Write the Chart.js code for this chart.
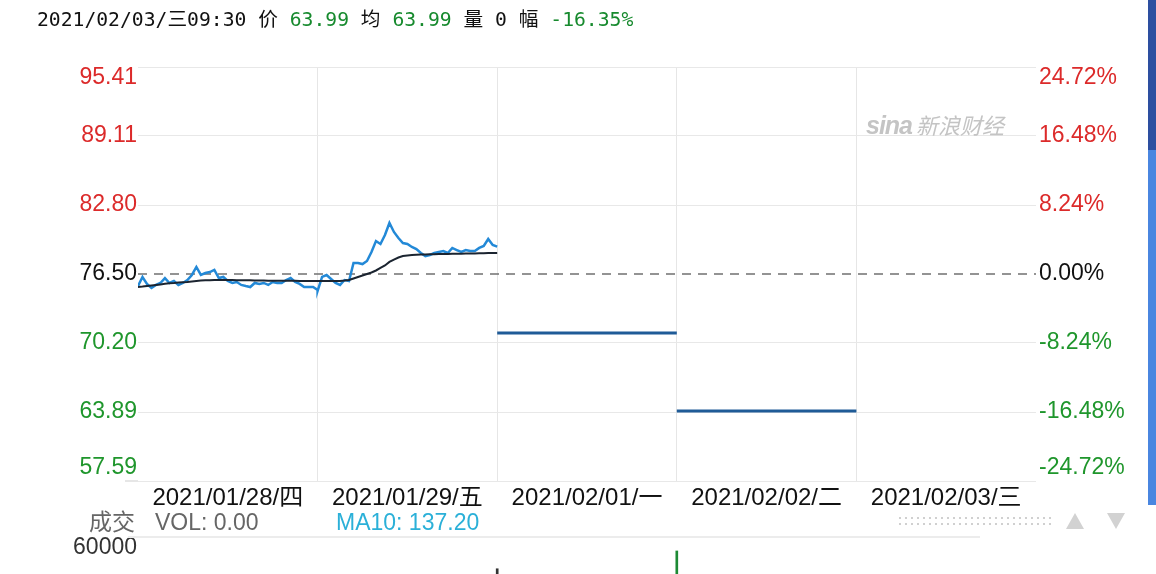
<!DOCTYPE html>
<html>
<head>
<meta charset="utf-8">
<script src="https://cdn.jsdelivr.net/npm/chart.js@4.4.1/dist/chart.umd.min.js"></script>
<style>
html,body{margin:0;padding:0;background:#fff;width:1156px;height:574px;overflow:hidden;position:relative;}
#main{position:absolute;left:0;top:0;}
#vol{position:absolute;left:0;top:537px;}
.t{position:absolute;white-space:nowrap;}
#hdr{left:37px;top:8px;font:19.7px "DejaVu Sans Mono","Noto Sans CJK SC",monospace;color:#111;line-height:24px;}
.g{color:#178a2e;}
.lbl{font:23px "Liberation Sans","Noto Sans CJK SC",sans-serif;line-height:28px;}
#dots{position:absolute;left:897px;top:515px;width:156px;height:12px;
 background-image:radial-gradient(circle,#d0d0d0 0.9px,transparent 1.2px);background-size:6px 6px;}
.tri{position:absolute;width:0;height:0;border-left:9px solid transparent;border-right:9px solid transparent;}
</style>
</head>
<body>
<canvas id="main" width="1156" height="515"></canvas>
<canvas id="vol" width="1156" height="200"></canvas>

<div id="hdr" class="t">2021/02/03/三09:30 价 <span class="g">63.99</span> 均 <span class="g">63.99</span> 量 0 幅 <span class="g">-16.35%</span></div>

<div class="t" style="left:866px;top:108px;color:#c4c4c4;">
 <span style="font:italic bold 25px 'Liberation Sans',sans-serif;letter-spacing:-1px;">sina</span><span style="font:italic 22px 'Noto Sans CJK SC',sans-serif;margin-left:4px;">新浪财经</span>
</div>

<div class="t lbl" style="left:89px;top:508px;color:#666;">成交</div>
<div class="t lbl" style="left:155px;top:508px;color:#666;">VOL: 0.00</div>
<div class="t lbl" style="left:336px;top:508px;color:#2bb0d8;">MA10: 137.20</div>
<div id="dots"></div>
<div class="tri" style="left:1066px;top:513px;border-bottom:16px solid #d2d2d2;"></div>
<div class="tri" style="left:1107px;top:513px;border-top:16px solid #d2d2d2;"></div>
<div class="t" style="left:128px;top:536px;width:852px;height:2px;background:#ececec;"></div>
<div class="t" style="left:125px;top:480px;width:13px;height:2px;background:#e6e6e6;"></div>
<div class="t" style="left:1148px;top:0;width:8px;height:150px;background:#2d4fa0;"></div>
<div class="t" style="left:1148px;top:150px;width:8px;height:355px;background:#4a86e0;"></div>

<script>
// ---- data ----
const dates = ['2021/01/28/四','2021/01/29/五','2021/02/01/一','2021/02/02/二','2021/02/03/三'];
const prevClose = 76.50;
const leftTicks = [57.59, 63.89, 70.20, 76.50, 82.80, 89.11, 95.41];
const rightTicks = [-24.72, -16.48, -8.24, 0.00, 8.24, 16.48, 24.72];

const day1Price = [75.40,76.23,75.59,75.22,75.50,75.68,76.13,75.68,75.86,75.50,75.68,75.95,76.41,77.14,76.41,76.59,76.68,76.87,76.13,76.23,
                   75.86,75.68,75.77,75.50,75.40,75.31,75.68,75.59,75.68,75.50,75.77,75.68,75.68,75.95,76.13,75.77,75.59,75.31,75.31,75.31,75.04];
const day2Price = [74.95,76.23,76.41,76.04,75.68,75.50,75.95,75.86,77.50,77.50,77.41,77.69,78.51,79.51,79.24,80.06,81.16,80.34,79.79,79.33,
                   79.24,78.97,78.78,78.42,78.14,78.24,78.42,78.51,78.60,78.42,78.88,78.69,78.51,78.69,78.60,78.60,78.88,79.06,79.70,79.15,79.00];
const day3Price = [71.10, 71.10];
const day4Price = [63.99, 63.99];

const day1Avg = [75.31,75.35,75.40,75.45,75.50,75.55,75.60,75.65,75.68,75.72,75.75,75.78,75.82,75.86,75.90,75.92,75.93,75.95,75.95,75.95,
                 75.95,75.95,75.94,75.93,75.92,75.92,75.91,75.90,75.90,75.89,75.89,75.88,75.88,75.88,75.88,75.88,75.87,75.87,75.87,75.86,75.85];
const day2Avg = [75.85,75.85,75.85,75.85,75.86,75.86,75.90,75.95,76.09,76.23,76.36,76.50,76.64,76.82,77.05,77.28,77.60,77.82,78.01,78.14,
                 78.19,78.24,78.26,78.28,78.29,78.30,78.31,78.32,78.33,78.33,78.34,78.35,78.36,78.37,78.38,78.38,78.39,78.40,78.41,78.41,78.42];

const volDays = [2, 3];
const volValues = [53000, 59000];
const volColors = ['#333333', '#1d8a34'];

// ---- helpers ----
const FONT = '"Liberation Sans","Noto Sans CJK SC",sans-serif';
const RED = '#dc2a2a', GREEN = '#1f962c', BLACK = '#111111';
function toPoints(arr, day){ const n = arr.length - 1; return arr.map((v,i)=>({x: day + i/n, y: v})); }
const pricePts = [].concat(toPoints(day1Price,0), toPoints(day2Price,1), [{x:2,y:null}],
                           toPoints(day3Price,2), [{x:3,y:null}], toPoints(day4Price,3));
const avgPts = [].concat(toPoints(day1Avg,0), toPoints(day2Avg,1));

function edgeLabel(s, i, n){
  if (i === n-1) return ['', s];
  if (i === 0) return [s, ''];
  return s;
}
function edgeFont(ctx){
  const n = 7;
  let lh = 1.2;
  if (ctx.index === n-1) lh = '22px';
  else if (ctx.index === 0) lh = '27px';
  return {family: FONT, size: 23, lineHeight: lh};
}

new Chart(document.getElementById('main'), {
  type: 'line',
  data: { datasets: [
    { label:'均', data: avgPts, borderColor:'#1b2430', borderWidth:2, pointRadius:0, tension:0 },
    { label:'价', data: pricePts, borderColor:'#2389d7', borderWidth:2.5, pointRadius:0, tension:0, spanGaps:false,
      segment:{ borderColor: c => c.p0.parsed.x >= 2 ? '#1f5b97' : '#2389d7',
                borderWidth: c => c.p0.parsed.x >= 2 ? 3 : 2.5 } },
    { label:'昨收', data:[{x:0,y:prevClose},{x:5,y:prevClose}], borderColor:'#707070', borderWidth:1.5,
      borderDash:[9,7], pointRadius:0 }
  ]},
  options: {
    animation:false, responsive:false, events:[],
    layout:{ padding:{ top:67, left:0, right:0, bottom:0 } },
    plugins:{ legend:{display:false}, tooltip:{enabled:false} },
    scales:{
      x:{ type:'linear', min:0, max:5,
          afterBuildTicks: s => { s.ticks = [0,0.5,1,1.5,2,2.5,3,3.5,4,4.5,5].map(v=>({value:v})); },
          afterFit: s => { s.height = 34; },
          grid:{ drawTicks:false, lineWidth:1,
                 color: c => (c.tick && Number.isInteger(c.tick.value) && c.tick.value>0 && c.tick.value<5) ? '#e6e6e6' : 'rgba(0,0,0,0)' },
          border:{display:false},
          ticks:{ autoSkip:false, maxRotation:0, minRotation:0, padding:3, color:BLACK,
                  font:{family:FONT, size:24},
                  callback: v => { const k = Math.round(v*2); return (k % 2 === 1) ? dates[(k-1)/2] : ''; } } },
      y:{ type:'linear', position:'left', min:57.59, max:95.41,
          afterBuildTicks: s => { s.ticks = leftTicks.map(v=>({value:v})); },
          afterFit: s => { s.width = 138; },
          grid:{ drawTicks:false, color: c => (c.tick && c.tick.value === prevClose) ? 'rgba(0,0,0,0)' : '#e8e8e8' },
          border:{display:false},
          ticks:{ padding:1, font: edgeFont,
                  color: c => c.tick.value > prevClose ? RED : (c.tick.value < prevClose ? GREEN : BLACK),
                  callback: (v,i,t) => edgeLabel(Number(v).toFixed(2), i, t.length) } },
      y2:{ type:'linear', position:'right', min:-24.72, max:24.72,
          afterBuildTicks: s => { s.ticks = rightTicks.map(v=>({value:v})); },
          afterFit: s => { s.width = 120; },
          grid:{ drawOnChartArea:false, drawTicks:false },
          border:{display:false},
          ticks:{ padding:3, font: edgeFont,
                  color: c => c.tick.value > 0 ? RED : (c.tick.value < 0 ? GREEN : BLACK),
                  callback: (v,i,t) => edgeLabel(Number(v).toFixed(2)+'%', i, t.length) } }
    }
  }
});

new Chart(document.getElementById('vol'), {
  type:'bar',
  data:{ datasets:[{ label:'VOL', data: volDays.map((d,i)=>({x:d, y:volValues[i]})),
                     backgroundColor: volColors, barThickness:2 }] },
  options:{
    animation:false, responsive:false, events:[],
    layout:{ padding:{ top:11, right:120, bottom:0, left:0 } },
    plugins:{ legend:{display:false}, tooltip:{enabled:false} },
    scales:{
      x:{ type:'linear', min:0, max:5, offset:false, display:false },
      y:{ min:0, max:60000,
          afterBuildTicks: s => { s.ticks = [{value:60000}]; },
          afterFit: s => { s.width = 138; },
          grid:{display:false, drawTicks:false}, border:{display:false},
          ticks:{ padding:1, color:'#333', font:{family:FONT, size:23, lineHeight:'20px'},
                  callback: v => String(v) } }
    }
  }
});
</script>
</body>
</html>
